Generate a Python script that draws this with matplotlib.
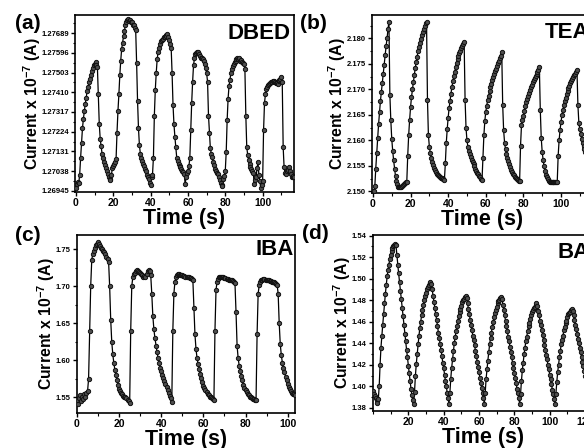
import numpy as np
import matplotlib
matplotlib.use("Agg")
import matplotlib.pyplot as plt
from matplotlib.ticker import MultipleLocator, AutoMinorLocator, FixedLocator

plt.rcParams['font.family'] = ['Liberation Sans', 'DejaVu Sans']
plt.rcParams['font.weight'] = 'bold'
plt.rcParams['mathtext.fontset'] = 'custom'
plt.rcParams['mathtext.rm'] = 'Liberation Sans:bold'
plt.rcParams['mathtext.bf'] = 'Liberation Sans:bold'
plt.rcParams['mathtext.default'] = 'bf'

# sampling interval of the current traces (s)
dt = 0.5

# (a) DBED current, x 10^-7 A
dbed = [
    1.26960, 1.26975, 1.26985, 1.26980, 1.27020, 1.27100, 1.27170, 1.27240, 1.27285, 1.27320,
    1.27355, 1.27385, 1.27415, 1.27435, 1.27457, 1.27475, 1.27490, 1.27510, 1.27525, 1.27540,
    1.27545, 1.27552, 1.27540, 1.27528, 1.27400, 1.27260, 1.27190, 1.27155, 1.27120, 1.27100,
    1.27080, 1.27065, 1.27050, 1.27038, 1.27025, 1.27012, 1.27002, 1.26998, 1.27020, 1.27050,
    1.27060, 1.27072, 1.27080, 1.27095, 1.27220, 1.27320, 1.27400, 1.27490, 1.27560, 1.27615,
    1.27645, 1.27675, 1.27700, 1.27730, 1.27740, 1.27750, 1.27758, 1.27748, 1.27752, 1.27740,
    1.27742, 1.27730, 1.27728, 1.27715, 1.27705, 1.27550, 1.27370, 1.27240, 1.27160, 1.27120,
    1.27098, 1.27086, 1.27072, 1.27060, 1.27048, 1.27038, 1.27020, 1.27012, 1.27000, 1.26980,
    1.26970, 1.27010, 1.27020, 1.27100, 1.27300, 1.27420, 1.27500, 1.27565, 1.27600, 1.27620,
    1.27640, 1.27650, 1.27658, 1.27662, 1.27670, 1.27672, 1.27680, 1.27675, 1.27685, 1.27670,
    1.27655, 1.27640, 1.27620, 1.27500, 1.27350, 1.27260, 1.27200, 1.27150, 1.27100, 1.27085,
    1.27070, 1.27060, 1.27055, 1.27048, 1.27040, 1.27032, 1.27025, 1.26975, 1.27010, 1.27030,
    1.27040, 1.27060, 1.27100, 1.27230, 1.27360, 1.27460, 1.27540, 1.27570, 1.27590, 1.27595,
    1.27600, 1.27598, 1.27590, 1.27580, 1.27572, 1.27570, 1.27565, 1.27560, 1.27545, 1.27525,
    1.27500, 1.27460, 1.27300, 1.27220, 1.27145, 1.27120, 1.27105, 1.27080, 1.27065, 1.27048,
    1.27040, 1.27030, 1.27022, 1.27010, 1.26995, 1.26980, 1.26972, 1.26968, 1.27000, 1.27015,
    1.27040, 1.27130, 1.27280, 1.27380, 1.27440, 1.27470, 1.27500, 1.27520, 1.27535, 1.27545,
    1.27555, 1.27560, 1.27568, 1.27572, 1.27565, 1.27570, 1.27560, 1.27562, 1.27555, 1.27550,
    1.27544, 1.27520, 1.27300, 1.27150, 1.27115, 1.27090, 1.27070, 1.27055, 1.27048, 1.27040,
    1.27030, 1.26975, 1.26995, 1.27010, 1.27050, 1.27080, 1.27020, 1.26990, 1.26960, 1.26970,
    1.26990, 1.27230, 1.27360, 1.27400, 1.27425, 1.27435, 1.27445, 1.27450, 1.27455, 1.27458,
    1.27460, 1.27462, 1.27465, 1.27460, 1.27455, 1.27452, 1.27448, 1.27465, 1.27470, 1.27475,
    1.27480, 1.27460, 1.27150, 1.27055, 1.27030, 1.27024, 1.27040, 1.27045, 1.27055, 1.27040,
    1.27024, 1.27012, 1.27008, 1.27016, 1.27010,
]

# (b) TEA current, x 10^-7 A
tea = [
    2.1500, 2.1500, 2.1510, 2.1545, 2.1575, 2.1605, 2.1632, 2.1655, 2.1678, 2.1696,
    2.1712, 2.1730, 2.1748, 2.1768, 2.1785, 2.1800, 2.1818, 2.1833, 2.1690, 2.1640,
    2.1603, 2.1580, 2.1561, 2.1545, 2.1530, 2.1520, 2.1514, 2.1509, 2.1508, 2.1508,
    2.1509, 2.1511, 2.1513, 2.1515, 2.1517, 2.1518, 2.1519, 2.1570, 2.1610, 2.1640,
    2.1665, 2.1685, 2.1700, 2.1714, 2.1728, 2.1742, 2.1753, 2.1764, 2.1775, 2.1784,
    2.1792, 2.1798, 2.1806, 2.1812, 2.1818, 2.1824, 2.1830, 2.1833, 2.1680, 2.1610,
    2.1588, 2.1575, 2.1566, 2.1558, 2.1551, 2.1546, 2.1542, 2.1538, 2.1535, 2.1533,
    2.1531, 2.1529, 2.1527, 2.1526, 2.1525, 2.1524, 2.1522, 2.1555, 2.1595, 2.1622,
    2.1645, 2.1663, 2.1678, 2.1692, 2.1705, 2.1716, 2.1726, 2.1735, 2.1744, 2.1752,
    2.1759, 2.1765, 2.1771, 2.1776, 2.1781, 2.1786, 2.1790, 2.1793, 2.1680, 2.1625,
    2.1600, 2.1588, 2.1580, 2.1574, 2.1568, 2.1562, 2.1557, 2.1553, 2.1549, 2.1545,
    2.1541, 2.1537, 2.1534, 2.1531, 2.1528, 2.1525, 2.1522, 2.1565, 2.1610, 2.1638,
    2.1656, 2.1668, 2.1679, 2.1688, 2.1697, 2.1704, 2.1711, 2.1718, 2.1724, 2.1730,
    2.1736, 2.1741, 2.1746, 2.1751, 2.1756, 2.1761, 2.1766, 2.1773, 2.1670, 2.1620,
    2.1596, 2.1583, 2.1574, 2.1566, 2.1559, 2.1553, 2.1548, 2.1543, 2.1539, 2.1535,
    2.1532, 2.1529, 2.1527, 2.1525, 2.1523, 2.1521, 2.1520, 2.1590, 2.1630, 2.1640,
    2.1648, 2.1658, 2.1667, 2.1675, 2.1682, 2.1688, 2.1694, 2.1699, 2.1704, 2.1709,
    2.1714, 2.1718, 2.1722, 2.1726, 2.1730, 2.1734, 2.1739, 2.1744, 2.1660, 2.1605,
    2.1578, 2.1562, 2.1550, 2.1540, 2.1533, 2.1528, 2.1524, 2.1521, 2.1519, 2.1518,
    2.1518, 2.1518, 2.1518, 2.1518, 2.1518, 2.1518, 2.1518, 2.1570, 2.1600, 2.1620,
    2.1636, 2.1649, 2.1660, 2.1669, 2.1677, 2.1684, 2.1691, 2.1697, 2.1702, 2.1707,
    2.1712, 2.1716, 2.1720, 2.1724, 2.1728, 2.1731, 2.1735, 2.1738, 2.1670, 2.1635,
    2.1622, 2.1612, 2.1603, 2.1596, 2.1589, 2.1583, 2.1578,
]

# (c) IBA current, x 10^-7 A
iba = [
    1.546, 1.541, 1.549, 1.553, 1.545, 1.551, 1.548, 1.554, 1.550, 1.556,
    1.558, 1.575, 1.640, 1.700, 1.735, 1.744, 1.748, 1.752, 1.755, 1.757,
    1.760, 1.757, 1.754, 1.752, 1.750, 1.748, 1.746, 1.743, 1.740, 1.737,
    1.733, 1.700, 1.655, 1.625, 1.608, 1.596, 1.587, 1.580, 1.574, 1.567,
    1.562, 1.558, 1.556, 1.554, 1.552, 1.551, 1.550, 1.549, 1.547, 1.545,
    1.542, 1.640, 1.700, 1.712, 1.716, 1.718, 1.720, 1.722, 1.721, 1.719,
    1.718, 1.716, 1.715, 1.713, 1.714, 1.712, 1.716, 1.720, 1.722, 1.721,
    1.715, 1.690, 1.660, 1.642, 1.630, 1.620, 1.611, 1.603, 1.596, 1.590,
    1.585, 1.580, 1.576, 1.572, 1.568, 1.564, 1.560, 1.556, 1.552, 1.549,
    1.544, 1.640, 1.690, 1.706, 1.712, 1.715, 1.716, 1.716, 1.715, 1.715,
    1.715, 1.714, 1.714, 1.713, 1.713, 1.712, 1.712, 1.711, 1.711, 1.710,
    1.709, 1.670, 1.635, 1.615, 1.603, 1.595, 1.588, 1.582, 1.576, 1.571,
    1.566, 1.563, 1.560, 1.557, 1.555, 1.553, 1.551, 1.550, 1.549, 1.548,
    1.546, 1.640, 1.695, 1.706, 1.710, 1.712, 1.713, 1.713, 1.712, 1.712,
    1.711, 1.711, 1.710, 1.710, 1.709, 1.709, 1.708, 1.708, 1.707, 1.706,
    1.704, 1.665, 1.620, 1.603, 1.593, 1.585, 1.579, 1.573, 1.567, 1.563,
    1.560, 1.557, 1.555, 1.553, 1.551, 1.550, 1.549, 1.548, 1.548, 1.547,
    1.546, 1.635, 1.690, 1.701, 1.706, 1.708, 1.709, 1.710, 1.710, 1.709,
    1.709, 1.708, 1.708, 1.707, 1.707, 1.706, 1.706, 1.705, 1.704, 1.703,
    1.702, 1.690, 1.650, 1.622, 1.607, 1.597, 1.590, 1.584, 1.578, 1.573,
    1.568, 1.564, 1.561, 1.558, 1.556, 1.555, 1.554, 1.553,
]

# (d) BA current, x 10^-7 A
ba = [
    1.396, 1.393, 1.391, 1.389, 1.387, 1.385, 1.388, 1.400, 1.420, 1.436,
    1.447, 1.457, 1.467, 1.477, 1.486, 1.494, 1.502, 1.508, 1.513, 1.518,
    1.522, 1.526, 1.528, 1.530, 1.531, 1.532, 1.531, 1.522, 1.513, 1.505,
    1.497, 1.489, 1.481, 1.473, 1.465, 1.457, 1.449, 1.442, 1.434, 1.427,
    1.419, 1.412, 1.405, 1.398, 1.392, 1.387, 1.384, 1.395, 1.410, 1.421,
    1.430, 1.439, 1.447, 1.454, 1.460, 1.466, 1.471, 1.476, 1.480, 1.484,
    1.487, 1.490, 1.492, 1.494, 1.496, 1.497, 1.495, 1.490, 1.484, 1.478,
    1.473, 1.467, 1.462, 1.456, 1.450, 1.445, 1.439, 1.434, 1.428, 1.422,
    1.417, 1.411, 1.405, 1.400, 1.394, 1.389, 1.384, 1.394, 1.407, 1.417,
    1.425, 1.433, 1.440, 1.446, 1.451, 1.456, 1.461, 1.465, 1.469, 1.472,
    1.475, 1.478, 1.480, 1.481, 1.483, 1.484, 1.482, 1.477, 1.472, 1.467,
    1.462, 1.457, 1.452, 1.447, 1.443, 1.438, 1.433, 1.428, 1.423, 1.418,
    1.413, 1.408, 1.403, 1.399, 1.394, 1.389, 1.384, 1.394, 1.407, 1.416,
    1.424, 1.432, 1.439, 1.445, 1.450, 1.455, 1.460, 1.464, 1.468, 1.471,
    1.474, 1.477, 1.479, 1.480, 1.482, 1.483, 1.481, 1.476, 1.471, 1.466,
    1.461, 1.456, 1.451, 1.446, 1.442, 1.437, 1.432, 1.427, 1.422, 1.417,
    1.412, 1.408, 1.403, 1.398, 1.394, 1.389, 1.384, 1.393, 1.405, 1.415,
    1.422, 1.430, 1.436, 1.442, 1.446, 1.451, 1.456, 1.459, 1.463, 1.466,
    1.469, 1.471, 1.473, 1.474, 1.476, 1.477, 1.475, 1.470, 1.466, 1.461,
    1.457, 1.452, 1.448, 1.443, 1.438, 1.434, 1.429, 1.425, 1.420, 1.416,
    1.411, 1.407, 1.402, 1.397, 1.393, 1.388, 1.384, 1.393, 1.404, 1.413,
    1.420, 1.427, 1.433, 1.439, 1.443, 1.447, 1.452, 1.455, 1.459, 1.461,
    1.464, 1.467, 1.468, 1.469, 1.471, 1.472, 1.470, 1.466, 1.462, 1.457,
    1.453, 1.449, 1.444, 1.440, 1.436, 1.432, 1.427, 1.423, 1.419, 1.414,
    1.410,
]

dbed_yticks = [1.26945, 1.27038, 1.27131, 1.27224, 1.27317, 1.27410, 1.27503, 1.27596, 1.27689]
tea_yticks = [2.150, 2.155, 2.160, 2.165, 2.170, 2.175, 2.180]
iba_yticks = [1.55, 1.60, 1.65, 1.70, 1.75]
ba_yticks = [1.38, 1.40, 1.42, 1.44, 1.46, 1.48, 1.50, 1.52, 1.54]
time_ticks = [0, 20, 40, 60, 80, 100]
time_ticks_ba = [20, 40, 60, 80, 100, 120]

W, H = 584, 448
fig = plt.figure(figsize=(W / 100, H / 100), dpi=100)


def px_rect(left, top, width, height):
    return [left / W, (H - top - height) / H, width / W, height / H]


panels = [
    dict(letter='(a)', name='DBED', data=dbed, rect=px_rect(75, 15, 219, 177),
         xlim=(-0.5, 116.8), ylim=(1.26939, 1.27775), yticks=dbed_yticks, yfmt='{:.5f}',
         xticks=time_ticks, name_xy=(0.982, 0.865), letter_xy=(15, 29)),
    dict(letter='(b)', name='TEA', data=tea, rect=px_rect(372, 15, 220, 178),
         xlim=(-0.5, 116.5), ylim=(2.1497, 2.1846), yticks=tea_yticks, yfmt='{:.3f}',
         xticks=time_ticks, name_xy=(0.986, 0.871), letter_xy=(300, 29)),
    dict(letter='(c)', name='IBA', data=iba, rect=px_rect(77, 235, 218, 178),
         xlim=(0, 103.5), ylim=(1.529, 1.769), yticks=iba_yticks, yfmt='{:.2f}',
         xticks=time_ticks, name_xy=(0.993, 0.885), letter_xy=(15, 241)),
    dict(letter='(d)', name='BA', data=ba, rect=px_rect(373, 235, 220, 176),
         xlim=(0, 124.5), ylim=(1.3772, 1.5405), yticks=ba_yticks, yfmt='{:.2f}',
         xticks=time_ticks_ba, name_xy=(0.986, 0.869), letter_xy=(302, 239)),
]

for p in panels:
    ax = fig.add_axes(p['rect'])
    values = np.asarray(p['data'])
    t = np.arange(len(values)) * dt
    ax.plot(t, values, '-', color='black', lw=0.9, zorder=2)
    ax.plot(t, values, 'o', ms=3.1, mfc='#4e4e4e', mec='#101010', mew=0.7, zorder=3)

    ax.set_xlim(*p['xlim'])
    ax.set_ylim(*p['ylim'])
    ax.xaxis.set_major_locator(FixedLocator(p['xticks']))
    ax.xaxis.set_minor_locator(MultipleLocator(10))
    ax.set_yticks(p['yticks'])
    ax.set_yticklabels([p['yfmt'].format(v) for v in p['yticks']])
    ax.yaxis.set_minor_locator(AutoMinorLocator(2))

    ax.tick_params(which='major', direction='out', length=3, width=1.0, pad=1.5)
    ax.tick_params(which='minor', direction='out', length=1.8, width=0.8)
    ax.tick_params(axis='x', labelsize=7.5)
    ax.tick_params(axis='y', labelsize=5.5)
    for lab in ax.get_xticklabels() + ax.get_yticklabels():
        lab.set_fontweight('bold')
    for sp in ax.spines.values():
        sp.set_linewidth(1.2)

    ax.set_xlabel('Time (s)', fontsize=15.5, fontweight='bold', labelpad=0)
    ax.set_ylabel(r'Current x 10$^{-7}$ (A)', fontsize=11.3, fontweight='bold', labelpad=-1)

    ax.text(p['name_xy'][0], p['name_xy'][1], p['name'], transform=ax.transAxes,
            ha='right', va='baseline', fontsize=16, fontweight='bold')
    lx, ly = p['letter_xy']
    fig.text(lx / W, 1 - ly / H, p['letter'], ha='left', va='baseline',
             fontsize=15, fontweight='bold')

fig.savefig('out.png', dpi=100)
